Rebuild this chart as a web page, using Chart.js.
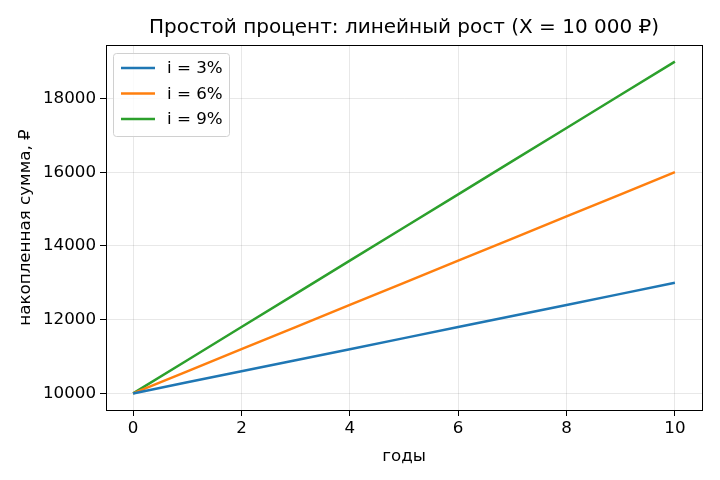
<!DOCTYPE html>
<html>
<head>
<meta charset="utf-8">
<script src="https://cdn.jsdelivr.net/npm/chart.js@4/dist/chart.umd.min.js"></script>
<style>
  html, body { margin: 0; padding: 0; background: #fff; }
  #wrap { width: 720px; height: 480px; position: relative; }
</style>
</head>
<body>
<div id="wrap"><canvas id="chart"></canvas></div>
<script>
// Data
const years = [0, 1, 2, 3, 4, 5, 6, 7, 8, 9, 10];
const rate3 = [10000, 10300, 10600, 10900, 11200, 11500, 11800, 12100, 12400, 12700, 13000];
const rate6 = [10000, 10600, 11200, 11800, 12400, 13000, 13600, 14200, 14800, 15400, 16000];
const rate9 = [10000, 10900, 11800, 12700, 13600, 14500, 15400, 16300, 17200, 18100, 19000];
const seriesLabels = ['i = 3%', 'i = 6%', 'i = 9%'];
const xTicks = [0, 2, 4, 6, 8, 10];
const yTicks = [10000, 12000, 14000, 16000, 18000];
const chartTitle = 'Простой процент: линейный рост (X = 10 000 ₽)';

const FONT = "'DejaVu Sans', sans-serif";
const colors = ['#1f77b4', '#ff7f0e', '#2ca02c'];
const TEXT_SIZE = 16.7;

function toPoints(values) {
  return years.map((x, i) => ({ x: x, y: values[i] }));
}

// title centred over the plot area, like matplotlib
const titlePlugin = {
  id: 'axTitle',
  afterDraw(chart) {
    const { ctx, chartArea: a } = chart;
    ctx.save();
    ctx.font = '20px ' + FONT;
    ctx.fillStyle = '#000';
    ctx.textAlign = 'center';
    ctx.textBaseline = 'middle';
    ctx.fillText(chartTitle, (a.left + a.right) / 2, a.top - 17);
    ctx.restore();
  }
};

// top/right spines like matplotlib
const framePlugin = {
  id: 'frame',
  afterDatasetsDraw(chart) {
    const { ctx, chartArea: a } = chart;
    ctx.save();
    ctx.strokeStyle = '#000';
    ctx.lineWidth = 1;
    ctx.strokeRect(Math.round(a.left) + 0.5, Math.round(a.top) + 0.5,
      Math.round(a.right - a.left), Math.round(a.bottom - a.top));
    ctx.restore();
  }
};

// legend box inside the plot, upper left
const legendPlugin = {
  id: 'innerLegend',
  afterDraw(chart) {
    const { ctx, chartArea: a } = chart;
    const x = a.left + 7.5, y = a.top + 8.5, w = 116, h = 83;
    ctx.save();
    ctx.beginPath();
    ctx.roundRect(x, y, w, h, 3);
    ctx.fillStyle = 'rgba(255,255,255,0.8)';
    ctx.fill();
    ctx.strokeStyle = '#d0d0d0';
    ctx.lineWidth = 1;
    ctx.stroke();
    ctx.font = TEXT_SIZE + 'px ' + FONT;
    ctx.textBaseline = 'middle';
    chart.data.datasets.forEach((ds, i) => {
      const ly = a.top + 23 + i * 25.5;
      ctx.strokeStyle = ds.borderColor;
      ctx.lineWidth = 2.5;
      ctx.beginPath();
      ctx.moveTo(a.left + 15, ly);
      ctx.lineTo(a.left + 49, ly);
      ctx.stroke();
      ctx.fillStyle = '#000';
      ctx.fillText(ds.label, a.left + 61, ly + 1);
    });
    ctx.restore();
  }
};

const datasets = [rate3, rate6, rate9].map((vals, i) => ({
  label: seriesLabels[i],
  data: toPoints(vals),
  borderColor: colors[i],
  backgroundColor: colors[i],
  borderWidth: 2.5,
  pointRadius: 0,
  tension: 0
}));

new Chart(document.getElementById('chart'), {
  type: 'line',
  data: { datasets: datasets },
  options: {
    responsive: true,
    maintainAspectRatio: false,
    animation: false,
    layout: { padding: { left: 0, right: 18, top: 45, bottom: 0 } },
    plugins: {
      legend: { display: false },
      tooltip: { enabled: false },
      title: { display: false }
    },
    scales: {
      x: {
        type: 'linear',
        min: -0.5,
        max: 10.5,
        afterBuildTicks(scale) { scale.ticks = xTicks.map(v => ({ value: v })); },
        afterFit(scale) { scale.height = 70; },
        grid: { color: 'rgba(0,0,0,0.09)', tickColor: '#000', tickLength: 6 },
        border: { color: '#000' },
        ticks: {
          color: '#000', font: { family: FONT, size: TEXT_SIZE }, padding: 3, maxRotation: 0,
          callback: v => String(v)
        },
        title: {
          display: true,
          text: 'годы',
          color: '#000',
          font: { family: FONT, size: TEXT_SIZE },
          padding: { top: 4, bottom: 13 }
        }
      },
      y: {
        type: 'linear',
        min: 9550,
        max: 19450,
        afterBuildTicks(scale) { scale.ticks = yTicks.map(v => ({ value: v })); },
        afterFit(scale) { scale.width = 106; },
        grid: { color: 'rgba(0,0,0,0.09)', tickColor: '#000', tickLength: 6 },
        border: { color: '#000' },
        ticks: {
          color: '#000', font: { family: FONT, size: TEXT_SIZE }, padding: 4,
          callback: v => String(v)
        },
        title: {
          display: true,
          text: 'накопленная сумма, ₽',
          color: '#000',
          font: { family: FONT, size: TEXT_SIZE },
          padding: { top: 16, bottom: 4 }
        }
      }
    }
  },
  plugins: [framePlugin, legendPlugin, titlePlugin]
});
</script>
</body>
</html>
